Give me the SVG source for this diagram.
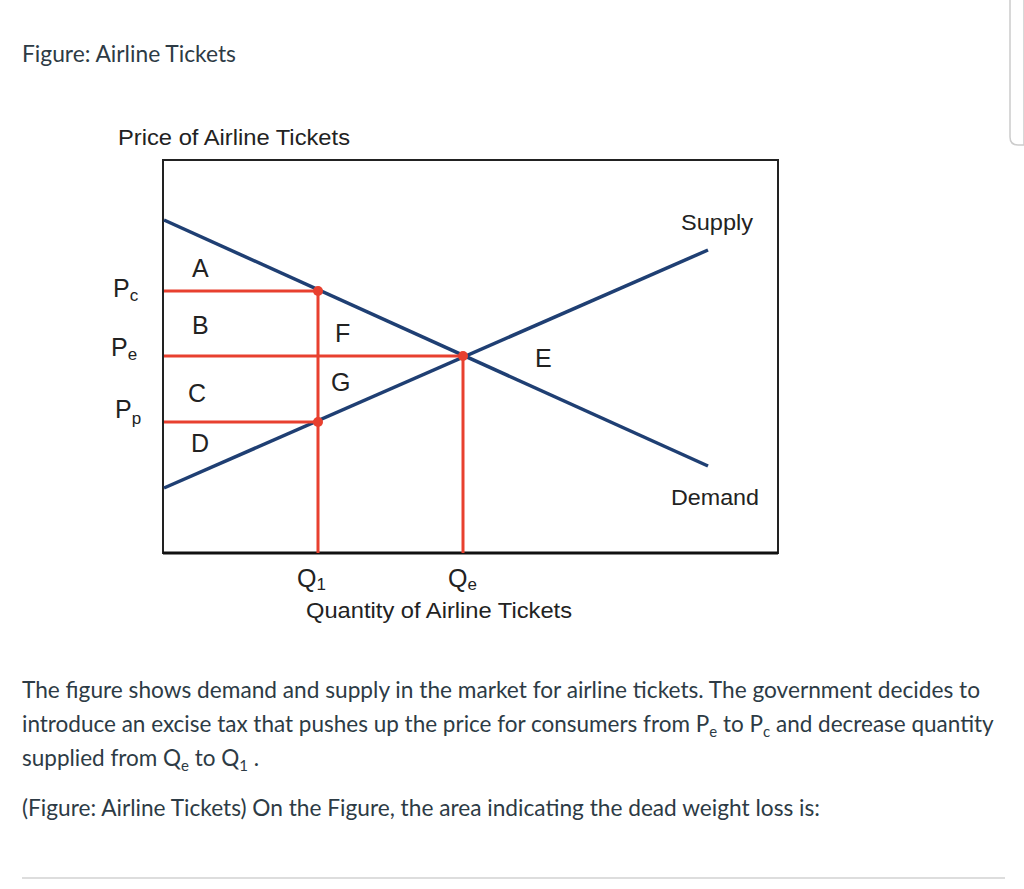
<svg xmlns="http://www.w3.org/2000/svg" width="1024" height="889" viewBox="0 0 1024 889">
<style>
.t{font-family:Lato,"Liberation Sans",sans-serif;fill:#2d3b45;font-size:22.5px}
.g{font-family:"Liberation Sans",Arial,sans-serif;fill:#222;font-size:22px}
.l{font-family:"Liberation Sans",Arial,sans-serif;fill:#222;font-size:25px}
.curve{stroke:#1f3f73;stroke-width:3.5;fill:none}
.red{stroke:#e8402f;stroke-width:3;fill:none}
</style>
<rect width="1024" height="889" fill="#fff"/>
<path d="M1024 0 L1024 145 L1018 145 Q1010 145 1010 137 L1010 0" fill="#fff" stroke="#ccc" stroke-width="1.5"/>
<text class="t" x="22" y="62" textLength="214" lengthAdjust="spacingAndGlyphs">Figure: Airline Tickets</text>
<g id="chart">
<text class="g" x="118" y="145" textLength="232" lengthAdjust="spacingAndGlyphs">Price of Airline Tickets</text>
<rect x="163" y="160" width="615" height="393" fill="none" stroke="#222" stroke-width="2"/>
<line x1="163" y1="553" x2="778" y2="553" stroke="#111" stroke-width="3"/>
</g>
<g id="connectors">
<line class="curve" x1="164" y1="220" x2="708" y2="466"/>
<line class="curve" x1="164" y1="488" x2="708" y2="250"/>
<polyline class="red" points="164,291 318,291 318,553"/>
<line class="red" x1="164" y1="356" x2="463" y2="356"/>
<line class="red" x1="463" y1="356" x2="463" y2="553"/>
<line class="red" x1="164" y1="422" x2="318" y2="422"/>
<circle cx="318" cy="291" r="5" fill="#e8402f"/>
<circle cx="463" cy="356" r="5" fill="#e8402f"/>
<circle cx="318" cy="422" r="5" fill="#e8402f"/>
</g>
<g id="labels">
<text class="l" x="113" y="297">P<tspan font-size="17" dy="4">c</tspan></text>
<text class="l" x="111" y="356">P<tspan font-size="17" dy="4">e</tspan></text>
<text class="l" x="115" y="418">P<tspan font-size="17" dy="6">p</tspan></text>
<text class="l" x="192" y="277">A</text>
<text class="l" x="192" y="334">B</text>
<text class="l" x="188" y="402">C</text>
<text class="l" x="191" y="452">D</text>
<text class="l" x="335" y="342">F</text>
<text class="l" x="331" y="391">G</text>
<text class="l" x="535" y="367">E</text>
<text class="g" x="681" y="230" textLength="72" lengthAdjust="spacingAndGlyphs">Supply</text>
<text class="g" x="671" y="505" textLength="88" lengthAdjust="spacingAndGlyphs">Demand</text>
<text class="l" x="297" y="587">Q<tspan font-size="17" dy="3">1</tspan></text>
<text class="l" x="448" y="587">Q<tspan font-size="17" dy="3">e</tspan></text>
<text class="g" x="306" y="618" textLength="266" lengthAdjust="spacingAndGlyphs">Quantity of Airline Tickets</text>
</g>
<text class="t" x="22" y="698" textLength="958" lengthAdjust="spacingAndGlyphs">The figure shows demand and supply in the market for airline tickets. The government decides to</text>
<text class="t" x="22" y="732">introduce an excise tax that pushes up the price for consumers from P<tspan font-size="15" dy="5">e</tspan><tspan dy="-5"> to P</tspan><tspan font-size="15" dy="5">c</tspan><tspan dy="-5"> and decrease quantity</tspan></text>
<text class="t" x="22" y="766">supplied from Q<tspan font-size="15" dy="5">e</tspan><tspan dy="-5"> to Q</tspan><tspan font-size="15" dy="5">1</tspan><tspan dy="-5"> .</tspan></text>
<text class="t" x="22" y="816" textLength="798" lengthAdjust="spacingAndGlyphs">(Figure: Airline Tickets) On the Figure, the area indicating the dead weight loss is:</text>
<line x1="22" y1="878" x2="1005" y2="878" stroke="#ddd" stroke-width="2"/>
</svg>
